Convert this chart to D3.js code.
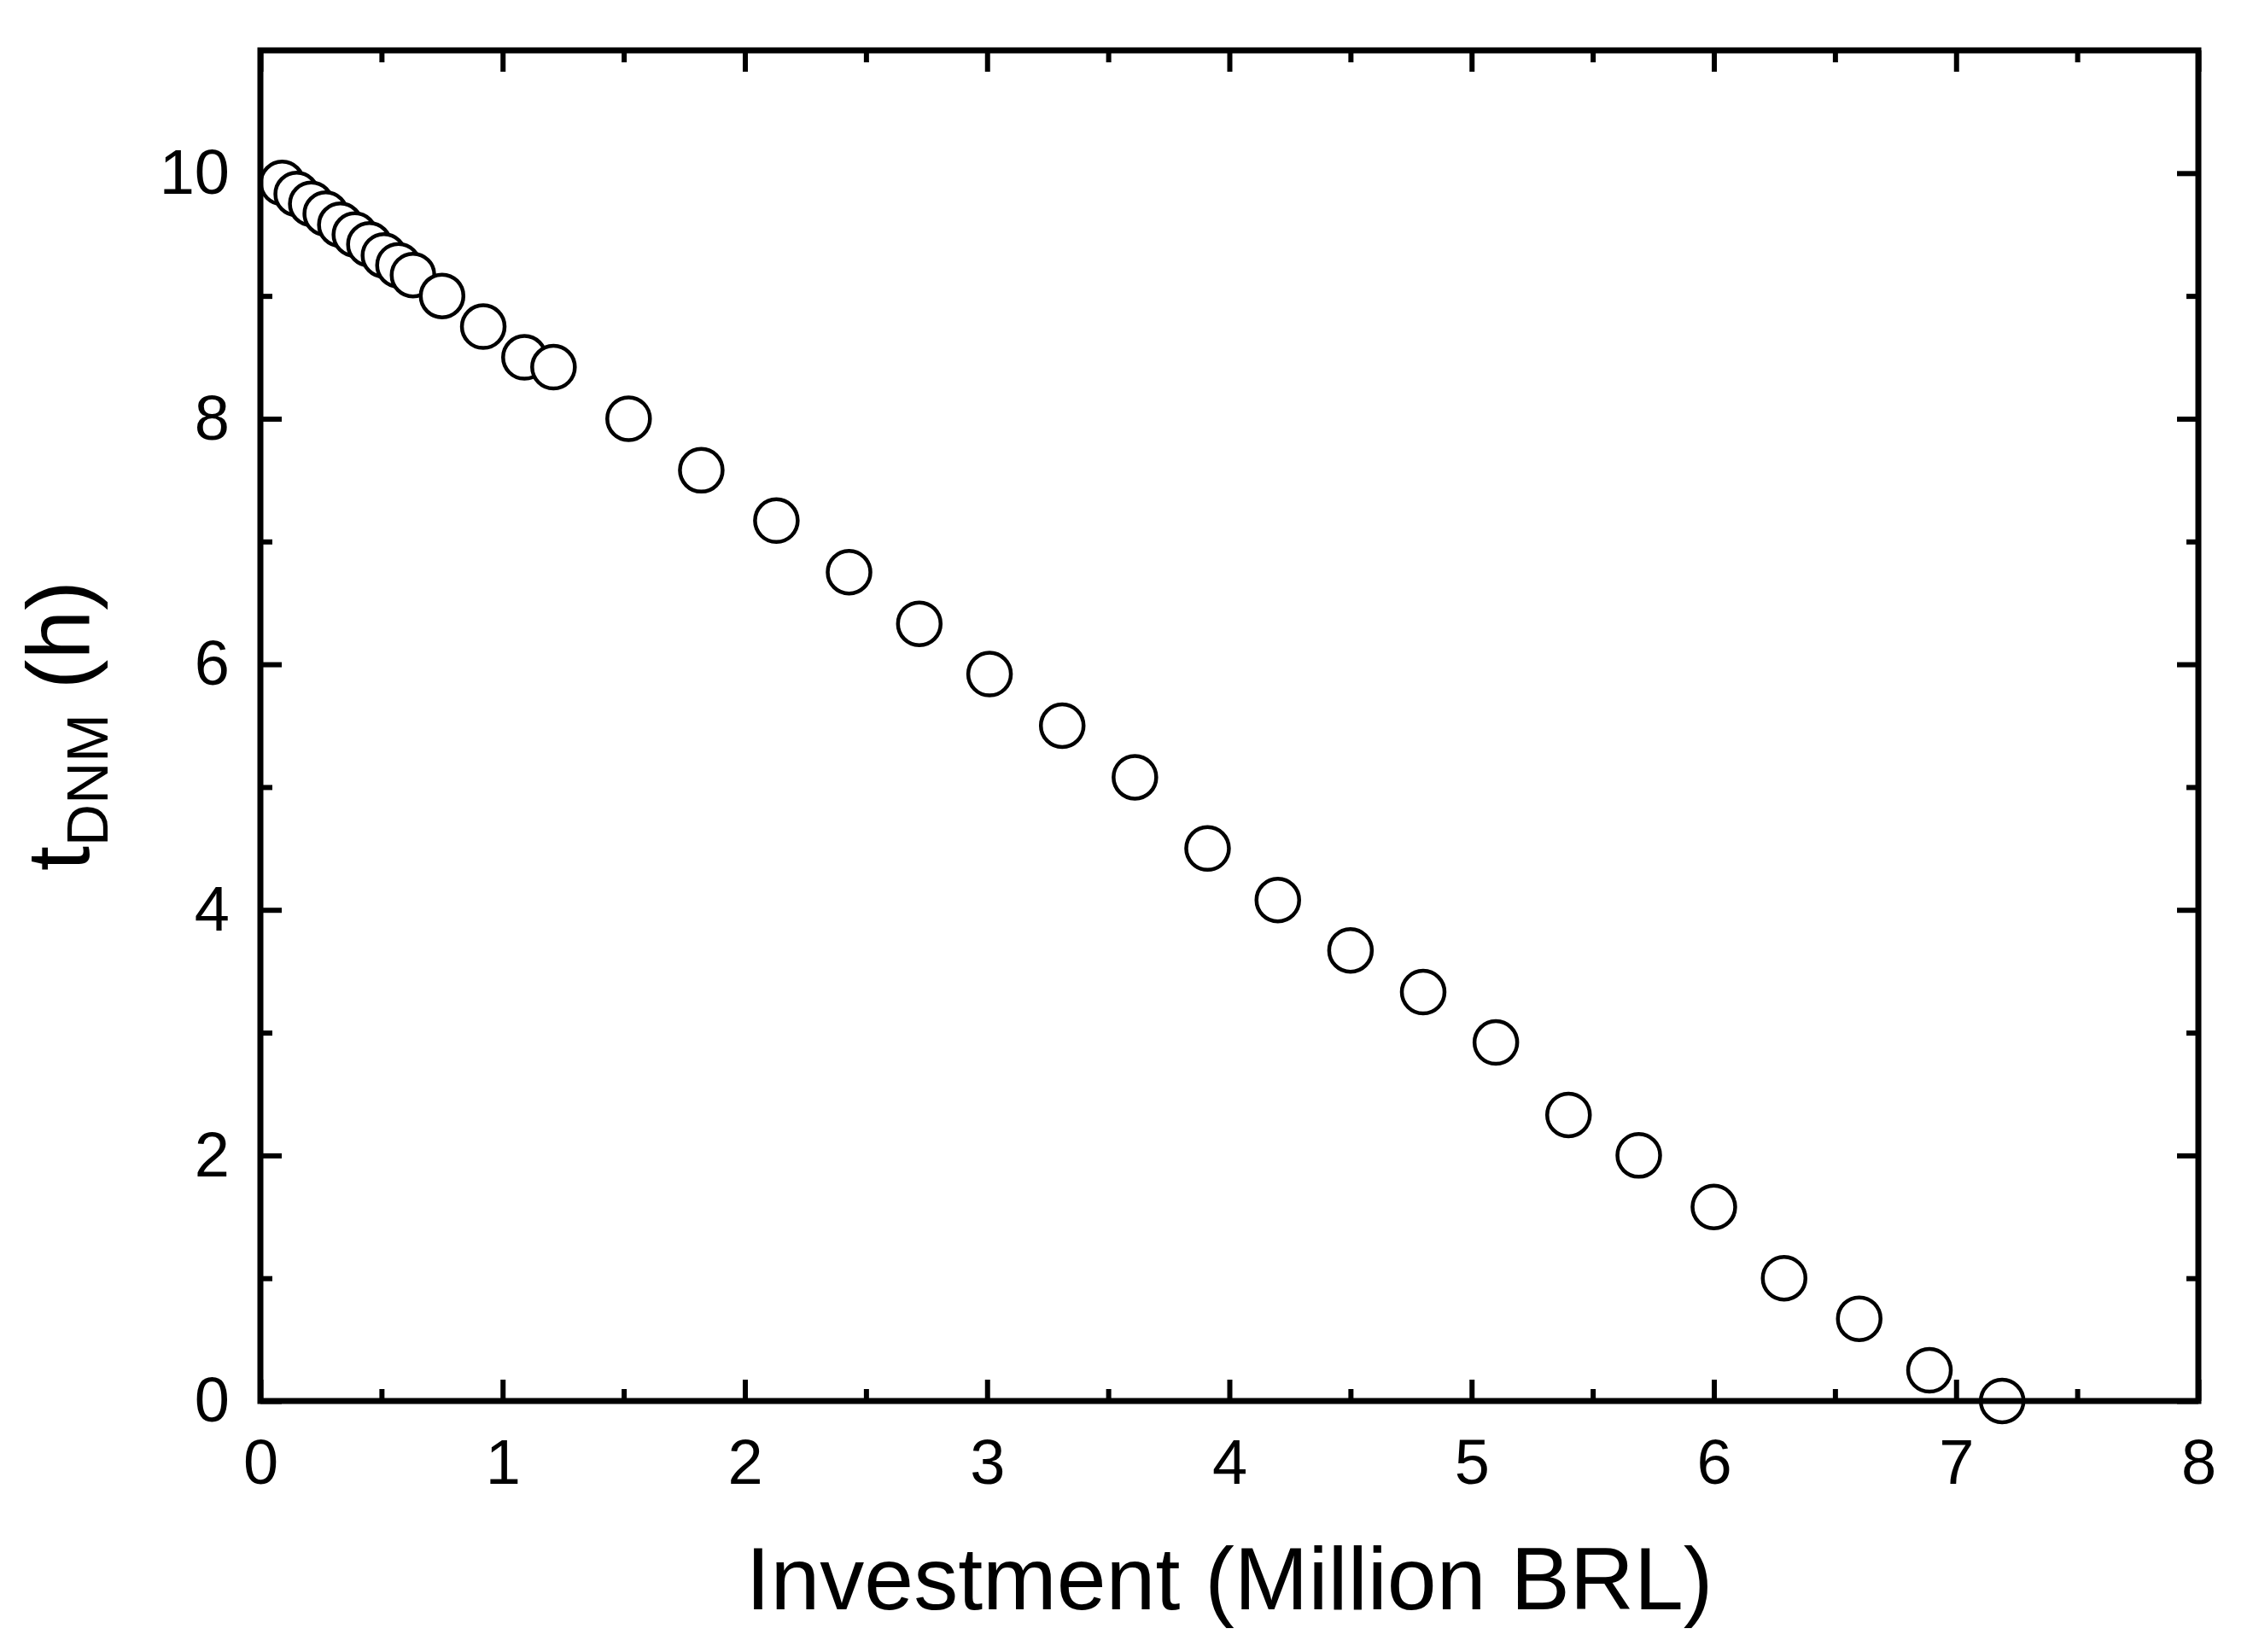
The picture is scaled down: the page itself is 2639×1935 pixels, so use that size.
<!DOCTYPE html>
<html><head><meta charset="utf-8">
<script src="https://cdn.jsdelivr.net/npm/d3@7"></script>
<style>body{margin:0;background:#fff}</style></head>
<body><svg id="c" width="2639" height="1935"></svg>
<script>
const xValues=[0.09,0.15,0.21,0.27,0.33,0.39,0.45,0.51,0.57,0.63,0.75,0.92,1.09,1.21,1.52,1.82,2.13,2.43,2.72,3.01,3.31,3.61,3.91,4.2,4.5,4.8,5.1,5.4,5.69,6.0,6.29,6.6,6.89,7.19];
const yValues=[9.92,9.83,9.75,9.67,9.58,9.5,9.42,9.33,9.25,9.17,9.0,8.75,8.5,8.42,8.0,7.58,7.17,6.75,6.33,5.92,5.5,5.08,4.5,4.08,3.67,3.33,2.92,2.33,2.0,1.58,1.0,0.67,0.25,0.0];
const xTicks=[0,1,2,3,4,5,6,7,8];
const yTicks=[0,2,4,6,8,10];
const xMinor=[0.5,1.5,2.5,3.5,4.5,5.5,6.5,7.5];
const yMinor=[1,3,5,7,9];

const svg=d3.select("#c");
const L=305,R=2575,T=59,B=1641;
const x=d3.scaleLinear().domain([0,8]).range([L,R]);
const y=d3.scaleLinear().domain([0,11]).range([B,T]);
const font="'Liberation Sans', Arial, sans-serif";
const tl=25, tm=14;
function ticks(g){g.selectAll("path").remove();g.selectAll("line").attr("stroke","#000").attr("stroke-width",6);g.selectAll("text").attr("font-family",font).attr("font-size",74).attr("fill","#000");}
svg.append("g").attr("transform",`translate(0,${B})`).call(d3.axisBottom(x).tickValues(xTicks).tickFormat(d3.format("d")).tickSizeInner(-tl).tickPadding(44)).call(ticks);
svg.append("g").attr("transform",`translate(0,${T})`).call(d3.axisTop(x).tickValues(xTicks).tickFormat("").tickSizeInner(-tl)).call(ticks);
svg.append("g").attr("transform",`translate(0,${B})`).call(d3.axisBottom(x).tickValues(xMinor).tickFormat("").tickSizeInner(-tm)).call(ticks);
svg.append("g").attr("transform",`translate(0,${T})`).call(d3.axisTop(x).tickValues(xMinor).tickFormat("").tickSizeInner(-tm)).call(ticks);
svg.append("g").attr("transform",`translate(${L},0)`).call(d3.axisLeft(y).tickValues(yTicks).tickFormat(d3.format("d")).tickSizeInner(-tl).tickPadding(36)).call(ticks);
svg.append("g").attr("transform",`translate(${R},0)`).call(d3.axisRight(y).tickValues(yTicks).tickFormat("").tickSizeInner(-tl)).call(ticks);
svg.append("g").attr("transform",`translate(${L},0)`).call(d3.axisLeft(y).tickValues(yMinor).tickFormat("").tickSizeInner(-tm)).call(ticks);
svg.append("g").attr("transform",`translate(${R},0)`).call(d3.axisRight(y).tickValues(yMinor).tickFormat("").tickSizeInner(-tm)).call(ticks);

svg.append("g").selectAll("circle").data(xValues.map((v,i)=>[v,yValues[i]])).join("circle")
 .attr("cx",d=>x(d[0])).attr("cy",d=>y(d[1])).attr("r",25)
 .attr("fill","#fff").attr("stroke","#000").attr("stroke-width",4.5);

svg.append("rect").attr("x",L).attr("y",T).attr("width",R-L).attr("height",B-T)
 .attr("fill","none").attr("stroke","#000").attr("stroke-width",7);

svg.append("text").attr("x",(L+R)/2).attr("y",1885).attr("text-anchor","middle")
 .attr("font-family",font).attr("font-size",104).text("Investment (Million BRL)");
const yl=svg.append("text").attr("transform",`translate(104,${(T+B)/2}) rotate(-90)`).attr("text-anchor","middle")
 .attr("font-family",font).attr("font-size",104);
yl.append("tspan").text("t");
yl.append("tspan").attr("font-size",68).attr("dy",22).text("DNM");
yl.append("tspan").attr("dy",-22).text(" (h)");
</script></body></html>
